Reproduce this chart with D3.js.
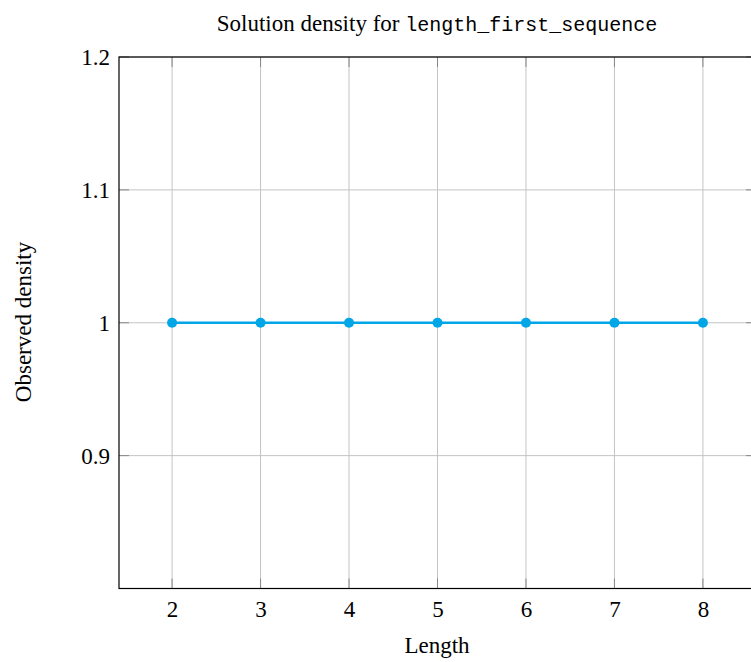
<!DOCTYPE html>
<html><head><meta charset="utf-8">
<script src="https://cdn.jsdelivr.net/npm/d3@7"></script>
<style>body{margin:0;background:#fff}</style>
</head><body>
<script>
const lengths = [2, 3, 4, 5, 6, 7, 8];
const density = [1, 1, 1, 1, 1, 1, 1];
const yTicks = [0.9, 1.0, 1.1, 1.2];
const yTickLabels = ["0.9", "1", "1.1", "1.2"];
const xTicks = [2, 3, 4, 5, 6, 7, 8];

const W = 751, H = 662;
const svg = d3.select("body").append("svg").attr("width", W).attr("height", H);
const x = d3.scaleLinear().domain([1.4, 8.6]).range([119, 756]);
const y = d3.scaleLinear().domain([0.8, 1.2]).range([588.5, 57]);
const serif = "'Liberation Serif', 'Times New Roman', serif";

// grid
svg.append("g").selectAll("line").data(xTicks).join("line")
  .attr("x1", d => x(d)).attr("x2", d => x(d)).attr("y1", y(0.8)).attr("y2", y(1.2))
  .attr("stroke", "#c4c4c4").attr("stroke-width", 1);
svg.append("g").selectAll("line").data(yTicks).join("line")
  .attr("x1", x(1.4)).attr("x2", x(8.6)).attr("y1", d => y(d)).attr("y2", d => y(d))
  .attr("stroke", "#c4c4c4").attr("stroke-width", 1);

// tick marks (inward)
const tl = 10;
const tg = svg.append("g").attr("stroke", "#888").attr("stroke-width", 1);
xTicks.forEach(d => {
  tg.append("line").attr("x1", x(d)).attr("x2", x(d)).attr("y1", y(0.8)).attr("y2", y(0.8) - tl);
  tg.append("line").attr("x1", x(d)).attr("x2", x(d)).attr("y1", y(1.2)).attr("y2", y(1.2) + tl);
});
yTicks.forEach(d => {
  tg.append("line").attr("x1", x(1.4)).attr("x2", x(1.4) + tl).attr("y1", y(d)).attr("y2", y(d));
  tg.append("line").attr("x1", x(8.6)).attr("x2", x(8.6) - tl).attr("y1", y(d)).attr("y2", y(d));
});

// frame
svg.append("rect").attr("x", x(1.4)).attr("y", y(1.2))
  .attr("width", x(8.6) - x(1.4)).attr("height", y(0.8) - y(1.2))
  .attr("fill", "none").attr("stroke", "#000").attr("stroke-width", 1.2);

// axes labels via d3 axes
const xAxis = d3.axisBottom(x).tickValues(xTicks).tickSize(0).tickPadding(12).tickFormat(d3.format("d"));
svg.append("g").attr("transform", `translate(0,${y(0.8)})`).call(xAxis)
  .call(g => g.select(".domain").remove())
  .selectAll("text").attr("font-family", serif).attr("font-size", 23).attr("fill", "#000");
const yAxis = d3.axisLeft(y).tickValues(yTicks).tickSize(0).tickPadding(9)
  .tickFormat((d, i) => yTickLabels[i]);
svg.append("g").attr("transform", `translate(${x(1.4)},0)`).call(yAxis)
  .call(g => g.select(".domain").remove())
  .selectAll("text").attr("font-family", serif).attr("font-size", 23).attr("fill", "#000");

// line
const color = "#00a6e6";
svg.append("path").datum(lengths.map((l, i) => [l, density[i]]))
  .attr("d", d3.line().x(d => x(d[0])).y(d => y(d[1])))
  .attr("fill", "none").attr("stroke", color).attr("stroke-width", 2.6);
svg.append("g").selectAll("circle").data(lengths.map((l, i) => [l, density[i]])).join("circle")
  .attr("cx", d => x(d[0])).attr("cy", d => y(d[1])).attr("r", 5).attr("fill", color);

// title
const t = svg.append("text").attr("x", 437).attr("y", 31).attr("text-anchor", "middle")
  .attr("font-family", serif).attr("font-size", 23).attr("fill", "#000");
t.append("tspan").text("Solution density for ");
t.append("tspan").attr("font-family", "'Liberation Mono', 'DejaVu Sans Mono', monospace").attr("font-size", 20).text("length_first_sequence");

// axis titles
svg.append("text").attr("x", 437).attr("y", 653).attr("text-anchor", "middle")
  .attr("font-family", serif).attr("font-size", 23).attr("fill", "#000").text("Length");
svg.append("text").attr("transform", "translate(31,322) rotate(-90)").attr("text-anchor", "middle")
  .attr("font-family", serif).attr("font-size", 23).attr("fill", "#000").text("Observed density");
</script>
</body></html>
